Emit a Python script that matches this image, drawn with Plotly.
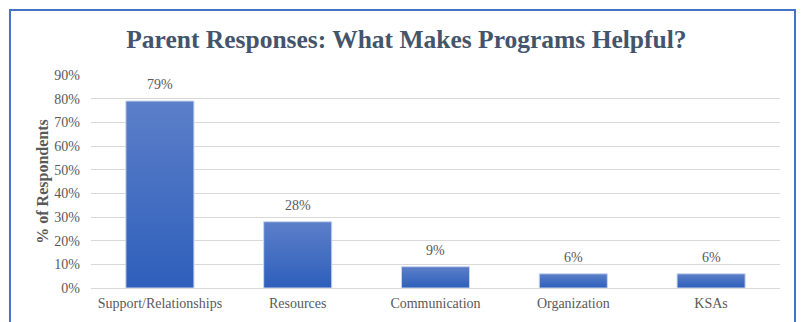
import plotly.graph_objects as go

categories = ["Support/Relationships", "Resources", "Communication", "Organization", "KSAs"]
shares = [0.79, 0.28, 0.09, 0.06, 0.06]
y_ticks = [0, 0.1, 0.2, 0.3, 0.4, 0.5, 0.6, 0.7, 0.8, 0.9]

BAR_HALF = 0.247
TXT = "#595959"
FONT = "Liberation Serif, Times New Roman, serif"

fig = go.Figure()

# Each bar is a filled rectangle with a vertical gradient (light at top, dark at base)
for i, v in enumerate(shares):
    fig.add_trace(go.Scatter(
        x=[i - BAR_HALF, i + BAR_HALF, i + BAR_HALF, i - BAR_HALF, i - BAR_HALF],
        y=[0, 0, v, v, 0],
        mode="lines",
        fill="toself",
        line=dict(color="#C9D6EE", width=1),
        fillgradient=dict(
            type="vertical",
            colorscale=[[0, "#2E5FBB"], [1, "#5C7FC9"]],
        ),
        hoverinfo="skip",
        showlegend=False,
    ))

# Value labels above the bars
value_labels = [
    dict(
        x=i, y=v, xref="x", yref="y",
        text=f"{round(v * 100)}%",
        showarrow=False,
        yanchor="bottom",
        yshift=7,
        font=dict(family=FONT, size=14, color=TXT),
    )
    for i, v in enumerate(shares)
]

fig.update_layout(
    width=804,
    height=322,
    margin=dict(l=91, r=24, t=75, b=34),
    paper_bgcolor="white",
    plot_bgcolor="white",
    showlegend=False,
    annotations=value_labels,
    title=dict(
        text="<b>Parent Responses: What Makes Programs Helpful?</b>",
        x=0.5055, xanchor="center",
        y=0.88, yanchor="middle",
        font=dict(family=FONT, size=25.5, color="#44546A"),
    ),
    xaxis=dict(
        range=[-0.5, len(categories) - 0.5],
        tickmode="array",
        tickvals=list(range(len(categories))),
        ticktext=categories,
        showgrid=False,
        zeroline=False,
        showline=False,
        ticks="",
        ticklabelstandoff=5,
        tickfont=dict(family=FONT, size=14, color=TXT),
        fixedrange=True,
    ),
    yaxis=dict(
        range=[0, 0.9],
        tickmode="array",
        tickvals=y_ticks,
        ticktext=[f"{round(t * 100)}%" for t in y_ticks],
        showgrid=True,
        gridcolor="#D9D9D9",
        gridwidth=1,
        zeroline=True,
        zerolinecolor="#D9D9D9",
        zerolinewidth=1,
        showline=False,
        ticks="",
        ticklabelstandoff=10,
        tickfont=dict(family=FONT, size=14, color=TXT),
        title=dict(
            text="<b>% of Respondents</b>",
            font=dict(family=FONT, size=16, color=TXT),
            standoff=1,
        ),
        fixedrange=True,
    ),
    shapes=[
        # Blue frame around the whole chart
        dict(
            type="rect", xref="paper", yref="paper",
            x0=-0.1176, x1=1.0218, y0=-0.22, y1=1.305,
            line=dict(color="#4472C4", width=2),
            fillcolor="rgba(0,0,0,0)",
            layer="below",
        ),
    ],
)

fig.write_html("out.html")
